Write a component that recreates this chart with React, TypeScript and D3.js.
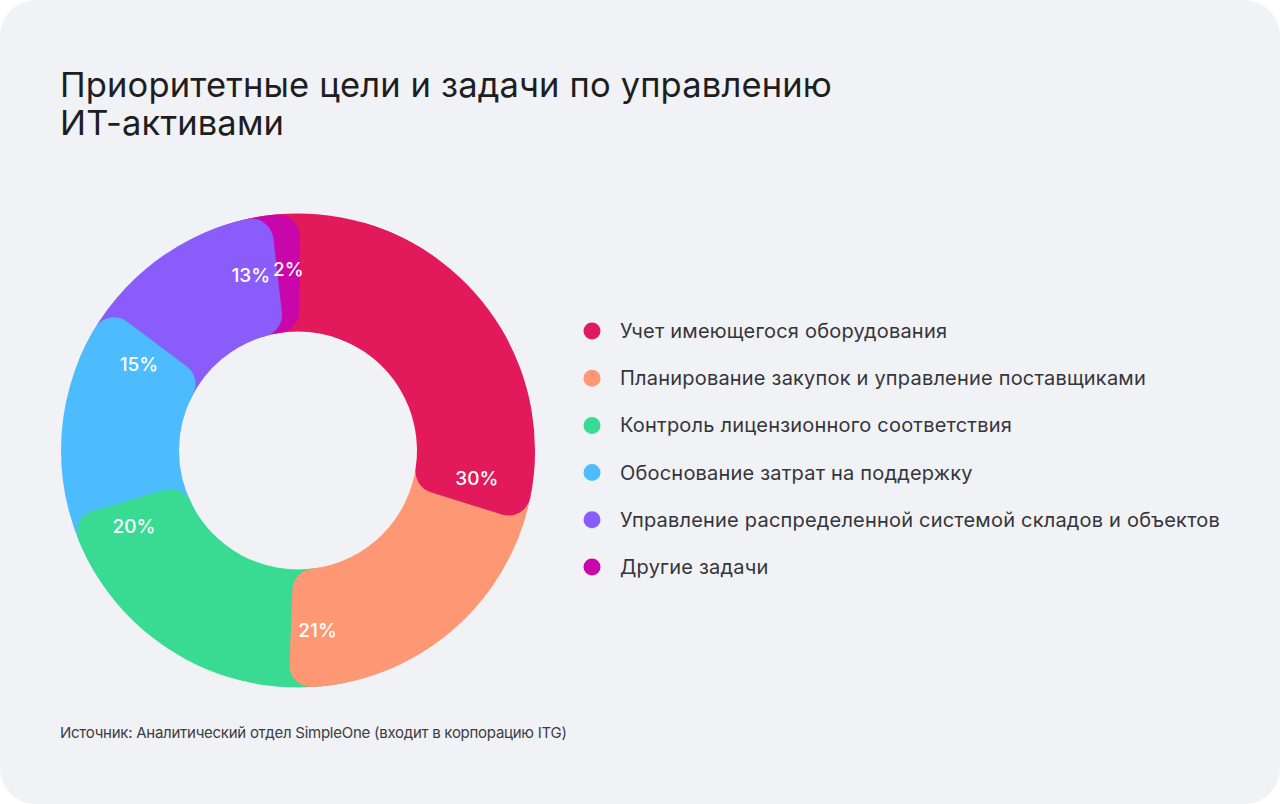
import React, { useRef, useEffect } from "react";
import * as d3 from "d3";

// goals and their share of answers, clockwise from the top
const categories = [
  "Учет имеющегося оборудования",
  "Планирование закупок и управление поставщиками",
  "Контроль лицензионного соответствия",
  "Обоснование затрат на поддержку",
  "Управление распределенной системой складов и объектов",
  "Другие задачи",
];
const shares = [30, 21, 20, 15, 13, 2];
const colors = ["#E2195A", "#FD9774", "#39DB93", "#4DBCFE", "#8A5CFA", "#C906A9"];

const titleLines = ["Приоритетные цели и задачи по управлению", "ИТ-активами"];
const sourceNote = "Источник: Аналитический отдел SimpleOne (входит в корпорацию ITG)";

const deg = Math.PI / 180;

const App: React.FC = () => {
  const svgRef = useRef<SVGSVGElement>(null);
  const dims = { width: 1280, height: 804 };
  const center = { x: 298, y: 450.5 };
  const radius = { outer: 237, inner: 119, label: 181 };
  // each slice runs on past its end and is painted over the next one,
  // so its rounded end bulges into the neighbour
  const overlap = 20 * deg;
  const shift = 0.5 * deg;

  useEffect(() => {
    if (!svgRef.current) return;
    const svg = d3.select(svgRef.current);
    svg.selectAll("*").remove();

    svg
      .append("rect")
      .attr("width", dims.width)
      .attr("height", dims.height)
      .attr("rx", 36)
      .attr("fill", "#F1F2F6");

    const font = "Inter, 'Noto Sans', sans-serif";

    svg
      .append("g")
      .selectAll("text")
      .data(titleLines)
      .join("text")
      .attr("x", 60)
      .attr("y", (d, i) => 97 + i * 38)
      .attr("font-family", font)
      .attr("font-size", 34.5)
      .attr("letter-spacing", 0.15)
      .attr("fill", "#1E1E22")
      .text(d => d);

    const pie = d3
      .pie<number>()
      .sort(null)
      .value(d => d)
      .startAngle(-overlap + shift)
      .endAngle(2 * Math.PI - overlap + shift);
    const slices = pie(shares);

    const arcPath = d3
      .arc<{ startAngle: number; endAngle: number }>()
      .innerRadius(radius.inner)
      .outerRadius(radius.outer)
      .cornerRadius(22);

    // paint order: first half of slice 0, then the rest from last to first,
    // then the tail of slice 0 on top of slice 1
    const first = slices[0];
    const pieces: { startAngle: number; endAngle: number; color: string }[] = [
      { startAngle: first.startAngle, endAngle: first.startAngle + 60 * deg, color: colors[0] },
    ];
    for (let i = slices.length - 1; i >= 1; i--) {
      pieces.push({
        startAngle: slices[i].startAngle,
        endAngle: slices[i].endAngle + overlap,
        color: colors[i],
      });
    }
    pieces.push({
      startAngle: first.startAngle + 30 * deg,
      endAngle: first.endAngle + overlap,
      color: colors[0],
    });

    const graph = svg.append("g").attr("transform", `translate(${center.x}, ${center.y})`);

    graph
      .selectAll("path")
      .data(pieces)
      .join("path")
      .attr("d", d => arcPath(d))
      .attr("fill", d => d.color);

    // percentage labels sit near the visible end of each slice
    const labelArc = d3
      .arc<{ startAngle: number; endAngle: number }>()
      .innerRadius(radius.label)
      .outerRadius(radius.label);

    graph
      .selectAll("text")
      .data(slices)
      .join("text")
      .attr("transform", d => {
        const span = d.endAngle - d.startAngle;
        const a = d.endAngle + overlap - Math.min(8.5 * deg, span / 2);
        const [x, y] = labelArc.centroid({ startAngle: a, endAngle: a });
        return `translate(${x}, ${y})`;
      })
      .attr("text-anchor", "middle")
      .attr("dy", "0.35em")
      .attr("font-family", font)
      .attr("font-size", 19)
      .attr("font-weight", 500)
      .attr("fill", "#ffffff")
      .text(d => `${d.data}%`);

    // legend
    const legend = svg
      .append("g")
      .selectAll("g")
      .data(categories)
      .join("g")
      .attr("transform", (d, i) => `translate(592, ${331 + i * 47.2})`);

    legend
      .append("circle")
      .attr("r", 8.5)
      .attr("fill", (d, i) => colors[i]);

    legend
      .append("text")
      .attr("x", 28)
      .attr("dy", "0.35em")
      .attr("font-family", font)
      .attr("font-size", 20)
      .attr("letter-spacing", 0.2)
      .attr("fill", "#35353B")
      .text(d => d);

    svg
      .append("text")
      .attr("x", 60)
      .attr("y", 738)
      .attr("font-family", font)
      .attr("font-size", 15)
      .attr("letter-spacing", -0.26)
      .attr("fill", "#3C3C42")
      .text(sourceNote);
  }, []);

  return (
    <svg
      ref={svgRef}
      width={dims.width}
      height={dims.height}
      style={{ position: "fixed", left: 0, top: 0, background: "#ffffff" }}
    />
  );
};

export default App;
